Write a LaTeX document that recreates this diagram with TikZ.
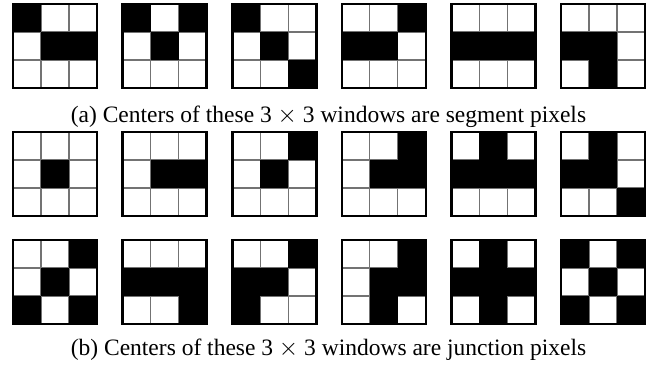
\documentclass[tikz,border=0pt]{standalone}
\usepackage{fontspec}
\setmainfont{Liberation Serif}

% one 3x3 window: #1 left, #2 top, #3 nine cells row by row (1 = black)
\newcommand{\window}[3]{%
  \foreach \k in {1,2} {%
    \draw[cellline] (#1+28*\k,#2) -- ++(0,84);
    \draw[cellline] (#1,#2+28*\k) -- ++(84,0);
  }%
  \foreach \b [count=\i from 0] in {#3} {%
    \pgfmathtruncatemacro\r{div(\i,3)}%
    \pgfmathtruncatemacro\c{mod(\i,3)}%
    \ifnum\b=1
      \fill (#1+28*\c,#2+28*\r) rectangle ++(28,28);
    \fi
  }%
  \draw[frame] (#1,#2) rectangle ++(84,84);
}

\tikzset{
  cellline/.style={line width=1.2pt, black!55},
  frame/.style={line width=2.6pt, black},
  caption/.style={anchor=base, font=\fontsize{23.5}{26}\selectfont, inner sep=0pt}
}

\begin{document}
\begin{tikzpicture}[x=1pt, y=-1pt]
  \useasboundingbox (0,0) rectangle (656,369);

  % segment pixels
  \window{13}{4}{1,0,0, 0,1,1, 0,0,0}
  \window{122.6}{4}{1,0,1, 0,1,0, 0,0,0}
  \window{232.2}{4}{1,0,0, 0,1,0, 0,0,1}
  \window{341.8}{4}{0,0,1, 1,1,0, 0,0,0}
  \window{451.4}{4}{0,0,0, 1,1,1, 0,0,0}
  \window{561}{4}{0,0,0, 1,1,0, 0,1,0}
  \node[caption] (capa) at (328.5,122)
    {(a) Centers of these 3 $\times$ 3 windows are segment pixels};

  % junction pixels
  \window{13}{132}{0,0,0, 0,1,0, 0,0,0}
  \window{122.6}{132}{0,0,0, 0,1,1, 0,0,0}
  \window{232.2}{132}{0,0,1, 0,1,0, 0,0,0}
  \window{341.8}{132}{0,0,1, 0,1,1, 0,0,0}
  \window{451.4}{132}{0,1,0, 1,1,1, 0,0,0}
  \window{561}{132}{0,1,0, 1,1,0, 0,0,1}

  \window{13}{240}{0,0,1, 0,1,0, 1,0,1}
  \window{122.6}{240}{0,0,0, 1,1,1, 0,0,1}
  \window{232.2}{240}{0,0,1, 1,1,0, 1,0,0}
  \window{341.8}{240}{0,0,1, 0,1,1, 0,1,0}
  \window{451.4}{240}{0,1,0, 1,1,1, 0,1,0}
  \window{561}{240}{1,0,1, 0,1,0, 1,0,1}
  \node[caption] (capb) at (328.5,355)
    {(b) Centers of these 3 $\times$ 3 windows are junction pixels};
\end{tikzpicture}
\end{document}
